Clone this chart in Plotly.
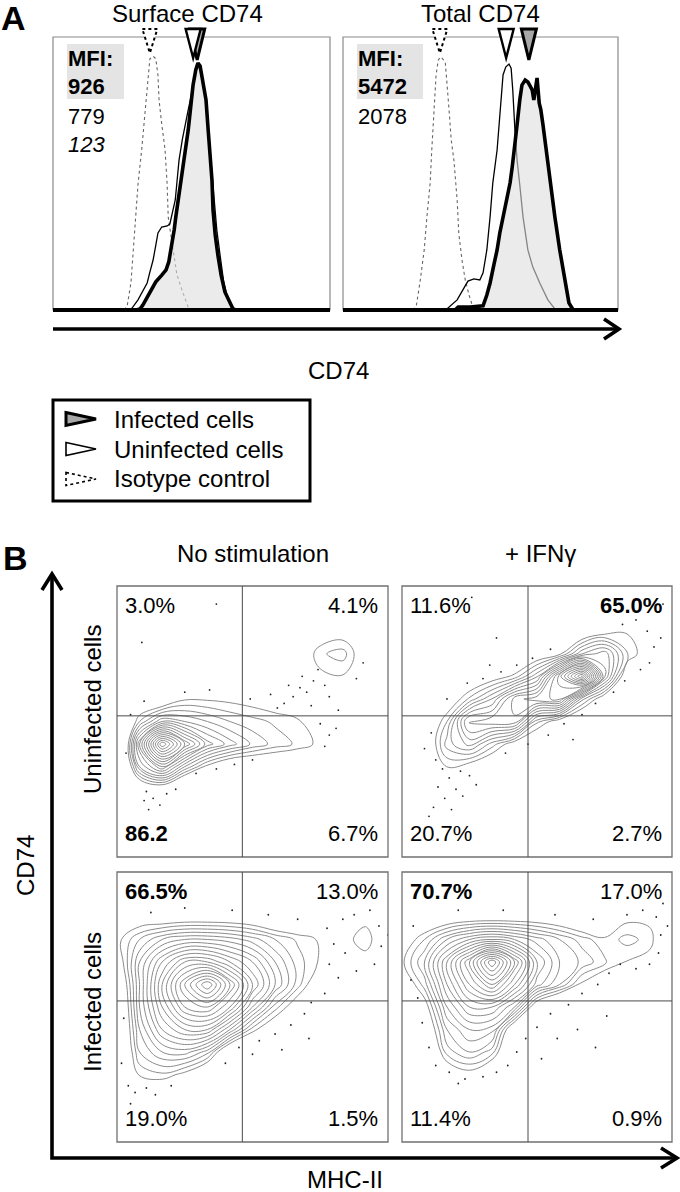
import numpy as np
import plotly.graph_objects as go

W, H = 680, 1192
FONT = "Liberation Sans, Arial, Helvetica, sans-serif"

# ---------------- Panel A data (x: log10 CD74 fluorescence, y: % of max) ----------------
surface_iso_x = [1.61,1.67,1.74,1.78,1.83,1.87,1.94,2.02,2.06,2.09,2.15,2.20,2.24,2.26,2.31,2.37,2.41,2.43,2.52,2.59,2.69,2.80,2.85]
surface_iso_y = [0,1.5,10,22,34,46,59,77,88,92,93,92,86,77,68,59,46,34,22,13,7,1,0]
surface_uninf_x = [1.69,1.76,1.87,1.96,2.04,2.09,2.15,2.20,2.24,2.31,2.41,2.46,2.50,2.56,2.59,2.63,2.69,2.74,2.80,2.85,2.91,2.94,2.98,3.04,3.11,3.17,3.22,3.28,3.33,3.39,3.46,3.54,3.61,3.67]
surface_uninf_y = [0,0.7,3.7,7.3,9.9,13.9,18.3,23.8,28.2,30.4,30.8,31.5,34.8,40.3,46.5,54.9,62.3,67.8,73.3,78,84.2,89,89.4,87.2,78.8,65.9,54.9,42.1,29.3,20.1,9.9,3.7,0.4,0]
surface_inf_x = [1.83,1.91,1.96,2.06,2.13,2.20,2.31,2.39,2.44,2.48,2.54,2.57,2.63,2.67,2.72,2.76,2.80,2.85,2.89,2.94,2.98,3.02,3.07,3.13,3.17,3.20,3.24,3.26,3.30,3.35,3.41,3.48,3.56,3.63,3.69]
surface_inf_y = [0,0.4,1.8,5.5,8.1,10.3,12.8,14.7,17.6,22,29.3,34.1,42.1,47.6,54.9,59.3,65.9,75.1,82.4,87.9,90.5,89.4,84.2,76.9,65.9,58.6,47.6,36.6,27.5,20.1,12.8,6.6,2.9,0.4,0]

total_iso_x = [1.59,1.65,1.72,1.80,1.85,1.91,1.94,1.98,2.02,2.06,2.11,2.19,2.22,2.26,2.30,2.35,2.41,2.44,2.50,2.56,2.63,2.70,2.76]
total_iso_y = [0,1.1,9.9,22,34.1,46.5,58.6,73.3,86.1,91.6,92.7,90.8,84.2,73.3,62.3,54.9,40.3,28.2,18.3,11,5.5,1.1,0]
total_uninf_x = [2.19,2.24,2.41,2.52,2.61,2.72,2.83,2.89,2.96,3.02,3.07,3.15,3.19,3.22,3.26,3.31,3.37,3.41,3.44,3.48,3.52,3.57,3.63,3.72,3.81,3.94,4.09,4.22,4.28]
total_uninf_y = [0,0.7,3.7,7.3,10.6,11.4,11,13.6,22,34.1,46.5,58.6,67.8,76.9,86.1,89,90.1,88.6,80.6,65.9,54.9,45.8,34.1,22,15.8,9.9,3.7,0.4,0]
total_inf_x = [2.37,2.43,2.65,2.89,2.96,3.02,3.09,3.15,3.20,3.26,3.33,3.39,3.43,3.46,3.52,3.57,3.61,3.67,3.72,3.76,3.80,3.83,3.87,3.89,3.93,3.96,4.00,4.06,4.13,4.22,4.31,4.41,4.48,4.56]
total_inf_y = [0,1.1,1.1,1.5,5.5,9.9,16.5,22,28.2,34.1,40.3,46.5,52.4,58.6,67.8,76.9,82.4,84.2,83.5,82.1,80.6,76.9,84.2,85,75.8,73.3,67.8,58.6,46.5,34.1,22,9.9,2.6,0]

# MFI values: infected, uninfected, isotype
surface_mfi = [926, 779, 123]
total_mfi = [5472, 2078, 123]
surface_mfi_text = ["926", "779", "123"]
total_mfi_text = ["5472", "2078"]
panel_a_titles = ["Surface CD74", "Total CD74"]
legend_labels = ["Infected cells", "Uninfected cells", "Isotype control"]

# ---------------- Panel B data: density grids (contour level counts) ----------------
grid = list(range(13))
# rows listed from top (y=12) to bottom (y=0)
z_uninf_nostim = [
 [-3,-3,-3,-3,-3,-3,-3,-3,-3,-3,-3,-3,-3],
 [-3,-3,-3,-3,-3,-3,-3,-3,-3,-3,-3,-3,-3],
 [-3,-3,-3,-3,-3,-3,-3,-3,-2,-0.5,0,-1,-2],
 [-3,-3,-3,-3,-3,-3,-3,-2,-1,1.8,2.5,-0.5,-2],
 [-3,-3,-3,-3,-3,-3,-3,-2,-1,0.6,0.9,-0.5,-2],
 [-3,-1.5,-1.5,0.8,0.8,0.6,0.2,-0.3,-0.8,-1,-1.5,-2,-2],
 [-4,2,6,5,4,3,2.4,1.8,1.3,-1,-1.5,-2,-2],
 [-6,8,18,12,7.5,5.5,3.8,2.6,1.8,0.6,-1,-1.5,-2],
 [-6,5,9,4,0.5,-1.5,-1.8,-1.8,-2,-2,-2,-2,-2],
 [-6,-2,-1,-4,-4,-4,-4,-4,-4,-4,-4,-4,-4],
 [-4,-4,-4,-4,-4,-4,-4,-4,-4,-4,-4,-4,-4],
 [-4,-4,-4,-4,-4,-4,-4,-4,-4,-4,-4,-4,-4],
 [-4,-4,-4,-4,-4,-4,-4,-4,-4,-4,-4,-4,-4],
]
z_uninf_ifng = [
 [-3,-3,-3,-3,-3,-3,-3,-3,-3,-3,-3,-3,-3],
 [-3,-3,-3,-3,-3,-3,-3,-3,-3,-3,-2,-3,-3],
 [-3,-3,-3,-3,-3,-3,-3,-2,-1.25,0.1,0.85,-1.5,-3],
 [-3,-3,-3,-3,-3,-1.85,-0.65,0.55,4.96,6.7,2.08,-0.3,-3],
 [-3,-3,-3,-1.4,-0.05,1.33,4.8,12.56,19.2,7.2,-0.95,-3,-3],
 [-3,-3,-0.8,2.24,5.03,9.5,10.7,11.2,3.4,-0.5,-3,-3,-3],
 [-3,-1.8,2.0,8.45,8.76,8.8,2.27,-0.05,-2.15,-3,-3,-3,-3],
 [-3,-1.5,3.5,5.35,2.55,-0.05,-1.55,-3,-3,-3,-3,-3,-3],
 [-3,-2,1.05,0.1,-1.25,-3,-3,-3,-3,-3,-3,-3,-3],
 [-3,-3,-2,-3,-3,-3,-3,-3,-3,-3,-3,-3,-3],
 [-3,-3,-3,-3,-3,-3,-3,-3,-3,-3,-3,-3,-3],
 [-3,-3,-3,-3,-3,-3,-3,-3,-3,-3,-3,-3,-3],
 [-3,-3,-3,-3,-3,-3,-3,-3,-3,-3,-3,-3,-3],
]
z_inf_nostim = [
 [-3,-3,-3,-3,-3,-3,-3,-3,-3,-3,-3,-3,-3],
 [-3,-3,-3,-3,-3,-3,-3,-3,-3,-3,-3,-3,-3],
 [-2,-0.5,-0.8,-0.5,-0.5,-0.6,-1,-2,-2,-2,-1,0.4,-1],
 [0.5,3,5,6,6,5.5,4.5,3,1.8,0.8,0.3,1.8,-1],
 [-0.5,5,9,12,12,10,8,5,2.5,0.8,0.6,0.2,-1],
 [-2,5,11,16,20,15,10,6,2.5,-1,-1,-1,-2],
 [-3,5,10,14,15,12,7,2.5,-0.5,-2,-2,-2,-2],
 [-3,4,8,10,10,6,1.5,-1,-2,-2,-2,-2,-2],
 [-3,3,5,5.5,3.5,-2,-3,-3,-3,-3,-3,-3,-3],
 [-3,1.2,1.8,0.5,-2,-3,-3,-3,-3,-3,-3,-3,-3],
 [-3,-2,-2,-3,-4,-3,-3,-3,-3,-3,-3,-3,-3],
 [-3,-3,-3,-3,-3,-3,-3,-3,-3,-3,-3,-3,-3],
 [-3,-3,-3,-3,-3,-3,-3,-3,-3,-3,-3,-3,-3],
]
z_inf_ifng = [
 [-3,-3,-3,-3,-3,-3,-3,-3,-3,-3,-3,-3,-3],
 [-3,-3,-3,-3,-3,-3,-3,-3,-3,-3,-3,-3,-3],
 [-3,-1.5,-1,-0.5,-0.4,-0.4,-0.5,-1,-2,-2,0.5,0.5,-2],
 [-0.5,2,5,7,8,7,5.5,4,2.5,1.3,2.4,1.6,-2],
 [0.7,4,9,14,20,14,8,5,3.8,2.2,0.9,0.3,-2],
 [-1,2.5,8,12,15,11,6.5,4,0.6,-1,-3,-2,-2],
 [-3,0,6,9,9,6,-1,-4,-3,-3,-3,-3,-3],
 [-3,-1.5,4,6,5.5,-1.5,-3,-3,-3,-3,-3,-3,-3],
 [-3,-3,2.5,4,2.5,-3,-3,-3,-3,-3,-3,-3,-3],
 [-3,-3,-1,0.3,-2,-3,-3,-3,-3,-3,-3,-3,-3],
 [-3,-3,-3,-2,-3,-3,-3,-3,-3,-3,-3,-3,-3],
 [-3,-3,-3,-3,-3,-3,-3,-3,-3,-3,-3,-3,-3],
 [-3,-3,-3,-3,-3,-3,-3,-3,-3,-3,-3,-3,-3],
]

# sparse events outside the contours (MHC-II, CD74 in grid units)
dots_uninf_nostim_x = [7.4,7.8,8.1,8.4,8.7,8.2,8.9,7.6,9.2,6.8,7.1,8.6,9.4,9.8,10.6,10.9,9.0,9.4,9.2,9.7,1.3,1.6,1.9,1.4,2.2,2.6,1.2,3.5,4.4,5.2,6.0,3.0,4.1,1.2,5.9,1.1,4.4,0.6,0.4]
dots_uninf_nostim_y = [6.8,7.1,7.5,7.3,7.8,8.0,8.3,7.6,7.6,7.2,6.6,6.7,7.1,6.5,7.9,8.6,5.9,5.4,4.9,5.7,2.9,2.6,2.3,2.1,2.8,3.0,2.5,3.7,3.9,4.1,4.3,7.3,7.4,6.9,7.0,9.5,11.2,6.3,4.6]
dots_uninf_ifng_x = [1.5,1.8,2.1,1.6,2.4,1.9,2.7,1.4,2.2,3.0,2.6,3.3,1.2,1.0,1.3,2.0,2.9,3.6,4.4,5.1,5.8,6.6,3.9,9.8,10.4,10.9,11.2,11.0,10.6,11.5,9.4,8.6,8.0,7.2,6.5,5.6,4.6,7.6,9.9,4.2,11.6,3.1]
dots_uninf_ifng_y = [4.3,3.9,3.5,3.1,3.0,2.6,2.7,2.2,2.1,3.6,3.8,3.2,1.8,4.8,5.5,7.0,7.7,7.9,8.2,8.5,8.8,9.2,8.5,10.3,10.5,10.0,9.3,8.6,8.3,9.7,7.3,6.8,6.3,5.9,5.4,5.0,4.6,5.2,7.8,9.7,11.2,11.5]
dots_inf_nostim_x = [9.3,9.6,9.4,9.8,9.2,10.0,10.5,11.2,11.6,11.7,11.4,10.6,10.1,12.0,8.6,8.3,7.7,7.0,6.3,6.0,7.3,8.5,5.4,4.8,0.5,0.8,1.3,1.7,0.6,2.4,0.2,0.3,1.5,3.0,5.1,6.7,8.0]
dots_inf_nostim_y = [9.5,8.8,7.9,7.3,6.6,9.9,10.1,10.3,9.6,8.7,7.9,7.6,8.4,9.2,6.2,5.7,5.2,4.8,4.5,3.9,4.1,4.6,4.2,3.5,2.5,2.2,2.4,2.1,1.7,2.5,3.5,5.5,10.2,10.4,10.3,10.1,9.9]
dots_inf_ifng_x = [10.0,10.7,11.3,11.5,11.4,11.0,10.4,9.7,9.2,11.8,11.6,8.7,8.0,7.4,6.6,6.0,5.5,5.1,4.7,4.2,3.6,2.8,2.1,1.5,1.2,0.9,0.7,0.4,2.5,6.9,7.8,8.6,6.2,9.1,0.5,2.5,4.5,6.8,8.5]
dots_inf_ifng_y = [10.1,10.3,10.0,9.2,8.4,7.9,7.7,7.9,7.5,9.6,10.6,7.0,6.6,6.1,5.7,5.1,4.6,4.0,3.4,3.1,2.9,2.8,3.1,3.4,4.2,5.3,6.4,7.2,2.6,4.6,5.0,4.2,3.7,5.6,9.6,10.3,10.3,10.1,9.9]

gate_x = [5.55, 5.6, 5.55, 5.6]
gate_y = [6.25, 6.25, 6.27, 6.27]
pct_ul = ["3.0%", "11.6%", "66.5%", "70.7%"]
pct_ur = ["4.1%", "65.0%", "13.0%", "17.0%"]
pct_ll = ["86.2", "20.7%", "19.0%", "11.4%"]
pct_lr = ["6.7%", "2.7%", "1.5%", "0.9%"]
bold_keys = ["ll", "ur", "ul", "ul"]
col_titles = ["No stimulation", "+ IFN\u03b3"]
row_titles = ["Uninfected cells", "Infected cells"]

# ---------------- layout geometry (pixels) ----------------
A_boxes = [(53, 37, 330, 310), (343, 37, 618, 310)]
A_xranges = [[0.296, 5.426], [0.296, 5.389]]
B_boxes = [(117, 586, 388, 857), (402, 586, 672, 857), (117, 872, 388, 1142), (402, 872, 672, 1142)]

def PX(x):
    return x / W

def PY(y):
    return 1 - y / H

fig = go.Figure()
axes = {}
shapes = []
annots = []

def add_axes(i, box, xr, yr):
    x0, y0, x1, y1 = box
    s = "" if i == 1 else str(i)
    axes["xaxis" + s] = dict(domain=[PX(x0), PX(x1)], range=xr, visible=False, anchor="y" + s, fixedrange=True)
    axes["yaxis" + s] = dict(domain=[PY(y1), PY(y0)], range=yr, visible=False, anchor="x" + s, fixedrange=True)
    return "x" + s, "y" + s

def txt(s, x, y, size=22, xanchor="left", angle=0):
    annots.append(dict(text=s, x=PX(x), y=PY(y), xref="paper", yref="paper", showarrow=False,
                       xanchor=xanchor, yanchor="middle", textangle=angle, borderpad=0,
                       font=dict(family=FONT, size=size, color="black")))

def pline(pts, width=3.5, color="black", dash="solid"):
    path = "M " + " L ".join(f"{PX(a):.5f},{PY(b):.5f}" for a, b in pts)
    shapes.append(dict(type="path", path=path, xref="paper", yref="paper",
                       line=dict(color=color, width=width, dash=dash)))

# ---------------- Panel A ----------------
hist_sets = [
    (surface_iso_x, surface_iso_y, surface_uninf_x, surface_uninf_y, surface_inf_x, surface_inf_y, surface_mfi),
    (total_iso_x, total_iso_y, total_uninf_x, total_uninf_y, total_inf_x, total_inf_y, total_mfi),
]
for k, (ix, iy, ux, uy, fx, fy, mfi) in enumerate(hist_sets):
    xa, ya = add_axes(k + 1, A_boxes[k], A_xranges[k], [0, 100])
    fig.add_trace(go.Scatter(x=ix, y=iy, mode="lines", xaxis=xa, yaxis=ya,
                             line=dict(color="#666666", width=1.1, dash="dot"), hoverinfo="skip"))
    fig.add_trace(go.Scatter(x=ux, y=uy, mode="lines", xaxis=xa, yaxis=ya,
                             line=dict(color="black", width=1.3), hoverinfo="skip"))
    fig.add_trace(go.Scatter(x=fx, y=fy, mode="lines", xaxis=xa, yaxis=ya, fill="tozeroy",
                             fillcolor="rgba(222,222,222,0.6)",
                             line=dict(color="black", width=3.6), hoverinfo="skip"))
    shapes.append(dict(type="rect", xref=xa + " domain", yref=ya + " domain", x0=0, x1=1, y0=0, y1=1,
                       line=dict(color="#8a8a8a", width=1.2), layer="below"))
    shapes.append(dict(type="line", xref=xa + " domain", yref=ya + " domain", x0=0, x1=1, y0=0, y1=0,
                       line=dict(color="black", width=4)))
    # MFI triangles above the box (isotype, infected, uninfected on top)
    lx = np.log10(mfi)
    tri_specs = [  # index, half width (px), tip (px), fill, line width, dash
        (2, 7.5, 53, "white", 2.0, "dot"),
        (0, 7.5, 60, "#a8a8a8", 3.0, "solid"),
        (1, 7.5, 58, "white", 2.4, "solid"),
    ]
    for idx, hw_px, tip, fc, lw, dash in tri_specs:
        hw = hw_px / 54.0
        c = lx[idx]
        path = f"M {c-hw:.4f},{PY(29):.5f} L {c+hw:.4f},{PY(29):.5f} L {c:.4f},{PY(tip):.5f} Z"
        shapes.append(dict(type="path", path=path, xref=xa, yref="paper", fillcolor=fc,
                           line=dict(color="black", width=lw, dash=dash)))

# MFI text blocks
for (bx, bw, texts) in [(67, 57, surface_mfi_text), (357, 66, total_mfi_text)]:
    shapes.append(dict(type="rect", xref="paper", yref="paper", x0=PX(bx), x1=PX(bx + bw),
                       y0=PY(99), y1=PY(44), fillcolor="#e4e4e4", line=dict(width=0), layer="below"))
    txt("<b>MFI:</b>", bx, 59)
    txt("<b>" + texts[0] + "</b>", bx, 87)
    txt(texts[1], bx, 116)
    if len(texts) > 2:
        txt("<i>" + texts[2] + "</i>", bx, 145)

txt("<b>A</b>", 0, 18, size=34)
txt(panel_a_titles[0], 187, 14, size=24, xanchor="center")
txt(panel_a_titles[1], 480, 14, size=24, xanchor="center")

# CD74 arrow
pline([(53, 329), (619, 329)], width=3.6)
pline([(604, 319), (619, 329), (604, 339)], width=3.6)
txt("CD74", 338, 370, size=24, xanchor="center")

# Legend
shapes.append(dict(type="rect", xref="paper", yref="paper", x0=PX(53), x1=PX(310), y0=PY(501), y1=PY(400),
                   line=dict(color="black", width=3)))
leg_specs = [(419, "#a8a8a8", 3.0, "solid"), (449, "white", 1.6, "solid"), (479, "white", 1.6, "dot")]
for (yc, fc, lw, dash), lab in zip(leg_specs, legend_labels):
    path = f"M {PX(66):.5f},{PY(yc-6.5):.5f} L {PX(96):.5f},{PY(yc):.5f} L {PX(66):.5f},{PY(yc+6.5):.5f} Z"
    shapes.append(dict(type="path", path=path, xref="paper", yref="paper", fillcolor=fc,
                       line=dict(color="black", width=lw, dash=dash)))
    txt(lab, 113, yc, size=24)

# ---------------- Panel B ----------------
z_sets = [z_uninf_nostim, z_uninf_ifng, z_inf_nostim, z_inf_ifng]
dot_sets = [(dots_uninf_nostim_x, dots_uninf_nostim_y), (dots_uninf_ifng_x, dots_uninf_ifng_y),
            (dots_inf_nostim_x, dots_inf_nostim_y), (dots_inf_ifng_x, dots_inf_ifng_y)]
for k in range(4):
    xa, ya = add_axes(k + 3, B_boxes[k], [0, 12], [0, 12])
    z = z_sets[k][::-1]
    fig.add_trace(go.Contour(x=grid, y=grid, z=z, xaxis=xa, yaxis=ya, showscale=False,
                             contours=dict(start=1, end=20, size=1, coloring="none"),
                             line=dict(color="#8c8c8c", width=1, smoothing=1.1), hoverinfo="skip"))
    dx, dy = dot_sets[k]
    fig.add_trace(go.Scatter(x=dx, y=dy, mode="markers", xaxis=xa, yaxis=ya,
                             marker=dict(color="#222222", size=1.8), hoverinfo="skip"))
    shapes.append(dict(type="rect", xref=xa + " domain", yref=ya + " domain", x0=0, x1=1, y0=0, y1=1,
                       line=dict(color="#707070", width=1.3)))
    shapes.append(dict(type="line", xref=xa, yref=ya + " domain", x0=gate_x[k], x1=gate_x[k], y0=0, y1=1,
                       line=dict(color="#4a4a4a", width=1)))
    shapes.append(dict(type="line", xref=xa + " domain", yref=ya, x0=0, x1=1, y0=gate_y[k], y1=gate_y[k],
                       line=dict(color="#4a4a4a", width=1)))
    x0, y0, x1, y1 = B_boxes[k]
    labs = {"ul": pct_ul[k], "ur": pct_ur[k], "ll": pct_ll[k], "lr": pct_lr[k]}
    for key, (xx, yy, anc) in {"ul": (x0 + 7, y0 + 19, "left"), "ur": (x1 - 9, y0 + 19, "right"),
                               "ll": (x0 + 7, y1 - 24, "left"), "lr": (x1 - 9, y1 - 24, "right")}.items():
        s = labs[key]
        if key == bold_keys[k]:
            s = "<b>" + s + "</b>"
        txt(s, xx, yy, size=22, xanchor=anc)

txt("<b>B</b>", 2, 558, size=34)
txt(col_titles[0], 253, 553, size=24, xanchor="center")
txt(col_titles[1], 540, 553, size=24, xanchor="center")
txt(row_titles[0], 92, 710, size=24, xanchor="center", angle=-90)
txt(row_titles[1], 92, 1002, size=24, xanchor="center", angle=-90)
txt("CD74", 25, 866, size=24, xanchor="center", angle=-90)
txt("MHC-II", 345, 1179, size=24, xanchor="center")

# B axes arrows
pline([(52, 574), (52, 1158), (677, 1158)], width=3.6)
pline([(42, 590), (52, 574), (62, 590)], width=3.6)
pline([(661, 1148), (677, 1158), (661, 1168)], width=3.6)

fig.update_layout(width=W, height=H, autosize=False, margin=dict(l=0, r=0, t=0, b=0),
                  paper_bgcolor="white", plot_bgcolor="white", showlegend=False,
                  shapes=shapes, annotations=annots, **axes)
fig.write_html("out.html", config={"displayModeBar": False, "staticPlot": True},
               post_script="document.body.style.margin='0px';document.body.style.overflow='hidden';")
